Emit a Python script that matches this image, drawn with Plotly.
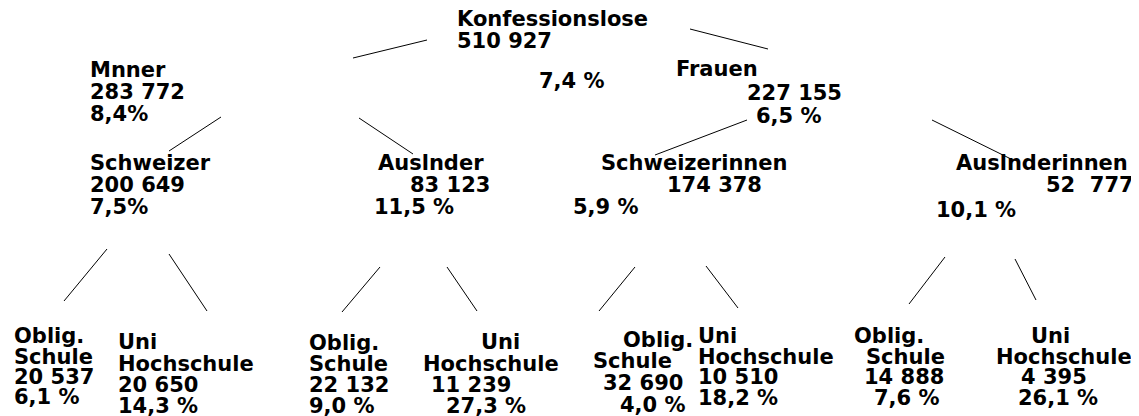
import plotly.graph_objects as go

# ---- data ----
node_names = ["Konfessionslose", "Mnner", "Frauen", "Schweizer", "Auslnder",
              "Schweizerinnen", "Auslnderinnen"]
node_counts = ["510 927", "283 772", "227 155", "200 649", "83 123", "174 378", "52  777"]
node_pcts = ["7,4 %", "8,4%", "6,5 %", "7,5%", "11,5 %", "5,9 %", "10,1 %"]

edu_line1 = ["Oblig.", "Uni", "Oblig.", "Uni", "Oblig.", "Uni", "Oblig.", "Uni"]
edu_line2 = ["Schule", "Hochschule", "Schule", "Hochschule", "Schule", "Hochschule",
             "Schule", "Hochschule"]
edu_counts = ["20 537", "20 650", "22 132", "11 239", "32 690", "10 510", "14 888", "4 395"]
edu_pcts = ["6,1 %", "14,3 %", "9,0 %", "27,3 %", "4,0 %", "18,2 %", "7,6 %", "26,1 %"]

# ---- layout positions (left x, center y in page pixels) for each text line ----
node_pos = [
    ((456, 19), (456, 41), (538, 81)),
    ((89, 70), (89, 92), (89, 114)),
    ((675, 69), (746, 93), (755, 116)),
    ((89, 163), (89, 185), (89, 207)),
    ((377, 163), (409, 185), (373, 207)),
    ((600, 163), (666, 185), (572, 207)),
    ((955, 163), (1045, 185), (935, 210)),
]
edu_pos = [
    ((13, 336), (13, 357), (13, 377), (13, 397)),
    ((117, 342), (117, 364), (117, 385), (117, 406)),
    ((308, 343), (308, 364), (308, 385), (308, 406)),
    ((480, 342), (422, 364), (430, 385), (445, 406)),
    ((622, 340), (592, 361), (602, 383), (619, 405)),
    ((697, 336), (697, 357), (697, 377), (697, 398)),
    ((853, 336), (865, 357), (863, 377), (873, 398)),
    ((1030, 336), (995, 357), (1020, 377), (1017, 398)),
]
edges = [
    ((353, 58), (427, 40)),
    ((690, 29), (768, 49)),
    ((221, 117), (169, 151)),
    ((359, 118), (413, 154)),
    ((747, 120), (655, 155)),
    ((932, 120), (1013, 160)),
    ((107, 249), (64, 301)),
    ((169, 254), (207, 311)),
    ((380, 267), (342, 312)),
    ((447, 267), (477, 311)),
    ((635, 267), (599, 311)),
    ((706, 266), (738, 308)),
    ((945, 257), (909, 304)),
    ((1015, 259), (1036, 300)),
]

FONT = dict(family="DejaVu Sans, sans-serif", size=21, color="black", weight="bold")
OFF = 8  # page body margin

fig = go.Figure()
fig.add_trace(go.Scatter(x=[OFF, 1139 + OFF], y=[OFF, 416 + OFF], mode="markers",
                         marker=dict(opacity=0), hoverinfo="skip", showlegend=False))

annotations = []
def add_text(txt, xy):
    annotations.append(dict(x=xy[0], y=xy[1], xref="x", yref="y", text=txt,
                            showarrow=False, xanchor="left", yanchor="middle",
                            font=FONT, borderpad=0))

for i in range(len(node_names)):
    add_text(node_names[i], node_pos[i][0])
    add_text(node_counts[i], node_pos[i][1])
    add_text(node_pcts[i], node_pos[i][2])
for i in range(len(edu_counts)):
    add_text(edu_line1[i], edu_pos[i][0])
    add_text(edu_line2[i], edu_pos[i][1])
    add_text(edu_counts[i], edu_pos[i][2])
    add_text(edu_pcts[i], edu_pos[i][3])

shapes = [dict(type="line", x0=a[0], y0=a[1], x1=b[0], y1=b[1], xref="x", yref="y",
               line=dict(color="black", width=1)) for a, b in edges]

fig.update_layout(
    width=1139, height=416,
    margin=dict(l=0, r=0, t=0, b=0),
    paper_bgcolor="white", plot_bgcolor="white",
    xaxis=dict(range=[OFF, 1139 + OFF], visible=False, fixedrange=True),
    yaxis=dict(range=[416 + OFF, OFF], visible=False, fixedrange=True),
    annotations=annotations, shapes=shapes,
)
fig.write_html("out.html", config={"displayModeBar": False})
